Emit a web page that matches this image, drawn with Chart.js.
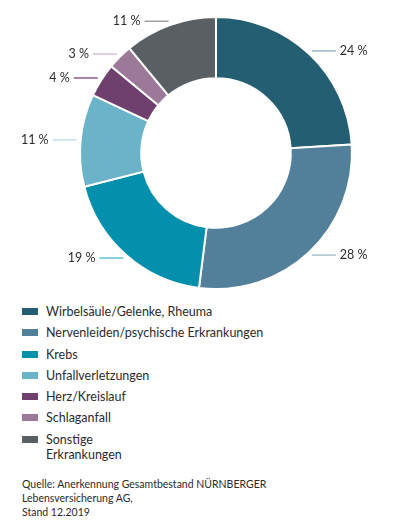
<!DOCTYPE html>
<html><head><meta charset="utf-8">
<script src="https://cdn.jsdelivr.net/npm/chart.js@4/dist/chart.umd.min.js"></script>
<style>
body{margin:0;background:#fff;font-family:Lato,"Open Sans",sans-serif;color:#2b2b2b;}
#wrap{position:relative;width:413px;height:300px;}
#legend{position:absolute;left:22px;top:304px;font-size:12.5px;}
.item{display:flex;align-items:flex-start;height:21.3px;}
.sw{width:16px;height:7px;margin-top:4px;margin-right:8px;flex:none;}
#src{position:absolute;left:22px;top:477px;font-size:10.5px;line-height:14px;}
</style></head><body>
<div id="wrap"><canvas id="c" width="413" height="300"></canvas></div>
<div id="legend"></div>
<div id="src">Quelle: Anerkennung Gesamtbestand NÜRNBERGER<br>Lebensversicherung AG,<br>Stand 12.2019</div>
<script>
const categories=["Wirbelsäule/Gelenke, Rheuma","Nervenleiden/psychische Erkrankungen","Krebs","Unfallverletzungen","Herz/Kreislauf","Schlaganfall","Sonstige\nErkrankungen"];
const values=[24,28,19,11,4,3,11];
const colors=["#245e73","#52809a","#048fad","#6bb3c9","#6f3f6e","#9c7899","#5a5f63"];
const lineColors=["#9bb5c2","#a9c0cd","#5fc0d6","#bfe3ee","#8c5c8a","#d5bfd3","#9a9fa3"];

const leg=document.getElementById('legend');
categories.forEach((c,i)=>{
  const d=document.createElement('div');d.className='item';
  if(i===6) d.style.height='34px';
  d.innerHTML='<div class="sw" style="background:'+colors[i]+'"></div><div style="line-height:15px">'+c.replace('\n','<br>')+'</div>';
  leg.appendChild(d);
});

const labelPlugin={id:'lbl',afterDraw(chart){
  const ctx=chart.ctx;const meta=chart.getDatasetMeta(0);
  ctx.save();ctx.font='12.5px Lato, sans-serif';ctx.textBaseline='middle';
  meta.data.forEach((arc,i)=>{
    const a=(arc.startAngle+arc.endAngle)/2;const r=arc.outerRadius+4;
    const x=arc.x+Math.cos(a)*r, y=arc.y+Math.sin(a)*r;
    const right=Math.cos(a)>=0; const L=24;
    const x2=right?x+L:x-L;
    ctx.strokeStyle=lineColors[i];ctx.lineWidth=1.5;
    ctx.beginPath();ctx.moveTo(x,y);ctx.lineTo(x2,y);ctx.stroke();
    ctx.fillStyle='#2b2b2b';ctx.textAlign=right?'left':'right';
    ctx.fillText(values[i]+' %',right?x2+4:x2-4,y);
  });
  ctx.restore();
}};

new Chart(document.getElementById('c'),{
  type:'doughnut',
  data:{labels:categories,datasets:[{data:values,backgroundColor:colors,borderColor:'#fff',borderWidth:2}]},
  options:{responsive:false,animation:false,cutout:'55%',
    layout:{padding:{left:79,right:60,top:16,bottom:10}},
    plugins:{legend:{display:false},tooltip:{enabled:false}}},
  plugins:[labelPlugin]
});
</script></body></html>
